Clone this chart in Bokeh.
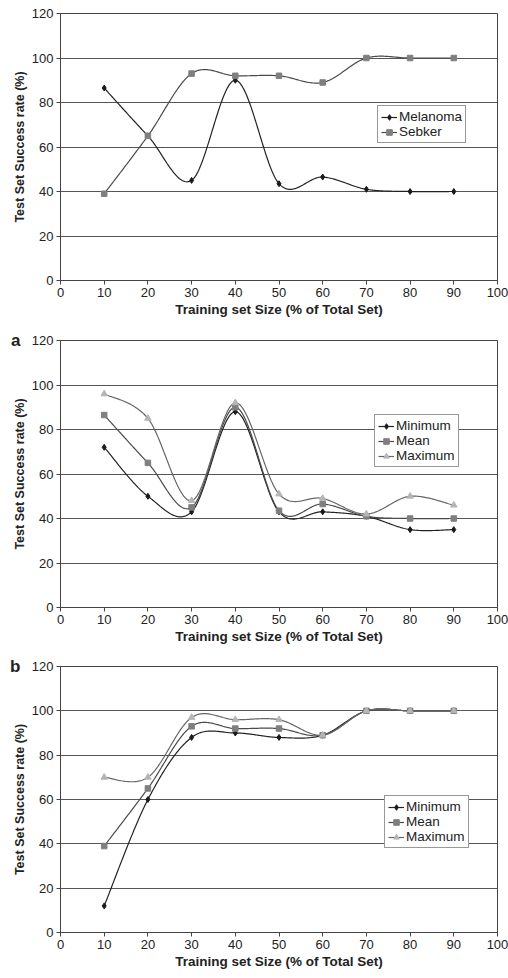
import numpy as np
from bokeh.plotting import figure
from bokeh.layouts import column
from bokeh.models import Legend, LegendItem, LinearAxis, FixedTicker, Range1d
from bokeh.embed import file_html
from bokeh.resources import INLINE

train_size = [10, 20, 30, 40, 50, 60, 70, 80, 90]
melanoma = [86.5, 65, 45, 90, 43.5, 46.5, 41, 40, 40]
sebker = [39, 65, 93, 92, 92, 89, 100, 100, 100]
a_minimum = [72, 50, 43, 88, 43, 43, 41, 35, 35]
a_mean = [86.5, 65, 45, 90, 43.5, 46.5, 41, 40, 40]
a_maximum = [96, 85, 48, 92, 51, 49, 42, 50, 46]
b_minimum = [12, 60, 88, 90, 88, 89, 100, 100, 100]
b_mean = [39, 65, 93, 92, 92, 89, 100, 100, 100]
b_maximum = [70, 70, 97, 96, 96, 89, 100, 100, 100]
x_ticks = [0, 10, 20, 30, 40, 50, 60, 70, 80, 90, 100]
y_ticks = [0, 20, 40, 60, 80, 100, 120]
x_title = "Training set Size (% of Total Set)"
y_title = "Test Set Success rate (%)"

FONT = "Liberation Sans"


def smooth(x, y, steps=40):
    x = np.asarray(x, float)
    y = np.asarray(y, float)
    n = len(x)
    xs, ys = [], []
    t = np.linspace(0, 1, steps)
    for i in range(n - 1):
        im = max(i - 1, 0)
        ip = min(i + 2, n - 1)
        p0x, p0y = x[i], y[i]
        p3x, p3y = x[i + 1], y[i + 1]
        c1x = p0x + (x[i + 1] - x[im]) / 6
        c1y = p0y + (y[i + 1] - y[im]) / 6
        c2x = p3x - (x[ip] - x[i]) / 6
        c2y = p3y - (y[ip] - y[i]) / 6
        bx = (1 - t) ** 3 * p0x + 3 * (1 - t) ** 2 * t * c1x + 3 * (1 - t) * t ** 2 * c2x + t ** 3 * p3x
        by = (1 - t) ** 3 * p0y + 3 * (1 - t) ** 2 * t * c1y + 3 * (1 - t) * t ** 2 * c2y + t ** 3 * p3y
        if i > 0:
            bx, by = bx[1:], by[1:]
        xs.extend(bx)
        ys.extend(by)
    return xs, ys


STYLES = {
    "diamond": dict(marker="diamond", size=6, fill_color="#1a1a1a", line_color="#1a1a1a", line="#222222"),
    "square": dict(marker="square", size=5.5, fill_color="#7f7f7f", line_color="#7f7f7f", line="#4a4a4a"),
    "triangle": dict(marker="triangle", size=6.5, fill_color="#b5b5b5", line_color="#b5b5b5", line="#666666"),
}


def make_fig(height, top, bottom, series, legend_loc, panel_label=None):
    p = figure(width=508, height=height, x_range=Range1d(0, 100), y_range=Range1d(0, 120),
               output_backend="svg", toolbar_location=None,
               min_border_left=60, min_border_right=11, min_border_top=top, min_border_bottom=bottom)
    p.background_fill_color = "white"
    p.border_fill_color = "white"
    p.outline_line_color = "#444444"
    p.outline_line_width = 1
    p.xgrid.visible = False
    p.ygrid.grid_line_color = "#555555"
    p.ygrid.grid_line_width = 1
    p.xaxis.ticker = FixedTicker(ticks=x_ticks)
    p.yaxis.ticker = FixedTicker(ticks=y_ticks)
    for ax in (p.xaxis[0], p.yaxis[0]):
        ax.minor_tick_line_color = None
        ax.major_tick_in = 0
        ax.major_tick_out = 4
        ax.axis_line_color = "#444444"
        ax.major_tick_line_color = "#444444"
        ax.major_label_text_font = FONT
        ax.major_label_text_font_size = "13px"
        ax.major_label_text_color = "#222222"
        ax.axis_label_text_font = FONT
        ax.axis_label_text_font_style = "bold"
        ax.axis_label_text_color = "#222222"
        ax.major_label_standoff = 3
        ax.axis_label_standoff = 2
    p.xaxis.axis_label_text_font_size = "13.5px"
    p.yaxis.axis_label_text_font_size = "12.5px"
    p.xaxis.axis_label = x_title
    p.yaxis.axis_label = y_title

    if panel_label:
        lab_ax = LinearAxis(ticker=FixedTicker(ticks=[y_ticks[-1]]),
                            major_label_overrides={y_ticks[-1]: panel_label})
        lab_ax.axis_line_color = None
        lab_ax.major_tick_line_color = None
        lab_ax.minor_tick_line_color = None
        lab_ax.major_tick_out = 0
        lab_ax.major_tick_in = 0
        lab_ax.major_label_standoff = -11
        lab_ax.major_label_text_font = FONT
        lab_ax.major_label_text_font_size = "17px"
        lab_ax.major_label_text_font_style = "bold"
        lab_ax.major_label_text_color = "#222222"
        p.add_layout(lab_ax, "left")

    items = []
    for name, vals, kind in series:
        st = STYLES[kind]
        sx, sy = smooth(train_size, vals)
        lr = p.line(sx, sy, line_color=st["line"], line_width=1.2)
        mr = p.scatter(train_size, vals, marker=st["marker"], size=st["size"],
                       fill_color=st["fill_color"], line_color=st["line_color"])
        items.append(LegendItem(label=name, renderers=[lr, mr]))

    leg = Legend(items=items, location=legend_loc)
    leg.padding = 3
    leg.spacing = 0
    leg.margin = 0
    leg.label_height = 14
    leg.glyph_height = 14
    leg.glyph_width = 16
    leg.label_standoff = 2
    leg.label_text_font = FONT
    leg.label_text_font_size = "13.5px"
    leg.label_text_color = "#222222"
    leg.border_line_color = "#333333"
    leg.border_line_width = 1
    leg.background_fill_alpha = 1
    p.add_layout(leg)
    return p


p1 = make_fig(325, 13, 45, [("Melanoma", melanoma, "diamond"), ("Sebker", sebker, "square")], (317, 137))
p2 = make_fig(325, 15, 43, [("Minimum", a_minimum, "diamond"), ("Mean", a_mean, "square"),
                            ("Maximum", a_maximum, "triangle")], (314, 140), "a")
p3 = make_fig(324, 16, 42, [("Minimum", b_minimum, "diamond"), ("Mean", b_mean, "square"),
                            ("Maximum", b_maximum, "triangle")], (324, 84), "b")

layout = column(p1, p2, p3, spacing=0)
open("out.html", "w").write(file_html(layout, INLINE))
